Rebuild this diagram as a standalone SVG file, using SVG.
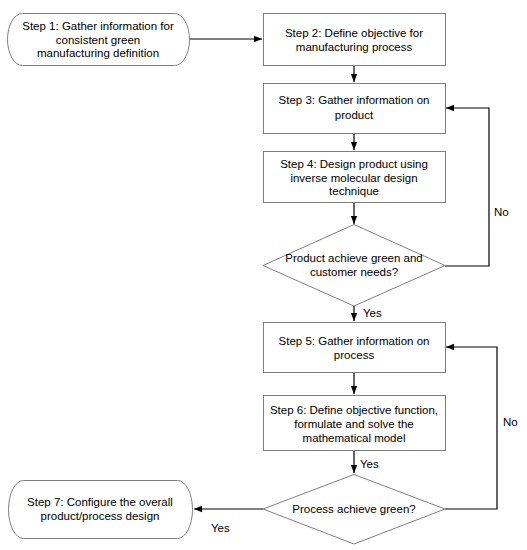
<svg xmlns="http://www.w3.org/2000/svg" width="527" height="550" viewBox="0 0 527 550">
<defs>
<marker id="ah" viewBox="0 0 10 10" refX="10" refY="5" markerWidth="8" markerHeight="8" markerUnits="userSpaceOnUse" orient="auto">
<path d="M0,1 L10,5 L0,9 Z" fill="#000"/>
</marker>
<style>
.box{fill:#fff;stroke:#7f7f7f;stroke-width:1}
.t{font-family:"Liberation Sans",Arial,sans-serif;font-size:11.5px;fill:#000;text-anchor:middle}
.lbl{font-family:"Liberation Sans",Arial,sans-serif;font-size:11.5px;fill:#000}
.c{fill:none;stroke:#000;stroke-width:1.2}
</style>
</defs>
<rect width="527" height="550" fill="#fff"/>
<g id="connectors">
<line class="c" x1="189" y1="39" x2="262" y2="39" marker-end="url(#ah)"/>
<line class="c" x1="354" y1="65" x2="354" y2="82" marker-end="url(#ah)"/>
<line class="c" x1="354" y1="133" x2="354" y2="150" marker-end="url(#ah)"/>
<line class="c" x1="354" y1="202" x2="354" y2="224" marker-end="url(#ah)"/>
<polyline class="c" points="445,266 489,266 489,108 446,108" marker-end="url(#ah)"/>
<line class="c" x1="354" y1="306" x2="354" y2="321" marker-end="url(#ah)"/>
<line class="c" x1="354" y1="372" x2="354" y2="394" marker-end="url(#ah)"/>
<line class="c" x1="354" y1="450" x2="354" y2="473" marker-end="url(#ah)"/>
<polyline class="c" points="445,509 497,509 497,347 446,347" marker-end="url(#ah)"/>
<line class="c" x1="263" y1="509" x2="194" y2="509" marker-end="url(#ah)"/>
<text class="lbl" x="494" y="216">No</text>
<text class="lbl" x="363" y="317">Yes</text>
<text class="lbl" x="360" y="468">Yes</text>
<text class="lbl" x="503" y="426">No</text>
<text class="lbl" x="211" y="532">Yes</text>
</g>
<g id="step1">
<rect class="box" x="7.5" y="13.5" width="182" height="52" rx="15" ry="26"/>
<text class="t" x="98" y="30">Step 1: Gather information for</text>
<text class="t" x="98" y="43.5">consistent green</text>
<text class="t" x="98" y="57">manufacturing definition</text>
</g>
<g id="step2">
<rect class="box" x="263.5" y="13.5" width="182" height="52"/>
<text class="t" x="354" y="37">Step 2:  Define objective for</text>
<text class="t" x="354" y="50.5">manufacturing process</text>
</g>
<g id="step3">
<rect class="box" x="263.5" y="83.5" width="182" height="50"/>
<text class="t" x="354" y="104">Step 3:  Gather information on</text>
<text class="t" x="354" y="119">product</text>
</g>
<g id="step4">
<rect class="box" x="263.5" y="151.5" width="182" height="51"/>
<text class="t" x="354" y="168">Step 4:  Design product using</text>
<text class="t" x="354" y="181.5">inverse molecular design</text>
<text class="t" x="354" y="195">technique</text>
</g>
<g id="decision1">
<polygon class="box" points="354,224.5 445,265.5 354,306 263,265.5"/>
<text class="t" x="354" y="262">Product achieve green and</text>
<text class="t" x="354" y="276">customer needs?</text>
</g>
<g id="step5">
<rect class="box" x="263.5" y="322.5" width="182" height="50"/>
<text class="t" x="354" y="345">Step 5:  Gather information on</text>
<text class="t" x="354" y="358.5">process</text>
</g>
<g id="step6">
<rect class="box" x="263.5" y="395.5" width="182" height="55"/>
<text class="t" x="354" y="414">Step 6:  Define objective function,</text>
<text class="t" x="354" y="428">formulate and solve the</text>
<text class="t" x="354" y="442">mathematical model</text>
</g>
<g id="decision2">
<polygon class="box" points="354,474.5 445,509 354,544 263,509"/>
<text class="t" x="354" y="513">Process achieve green?</text>
</g>
<g id="step7">
<rect class="box" x="8.5" y="480.5" width="184" height="58" rx="15" ry="29"/>
<text class="t" x="100" y="506">Step 7: Configure the overall</text>
<text class="t" x="100" y="520">product/process design</text>
</g>
</svg>
